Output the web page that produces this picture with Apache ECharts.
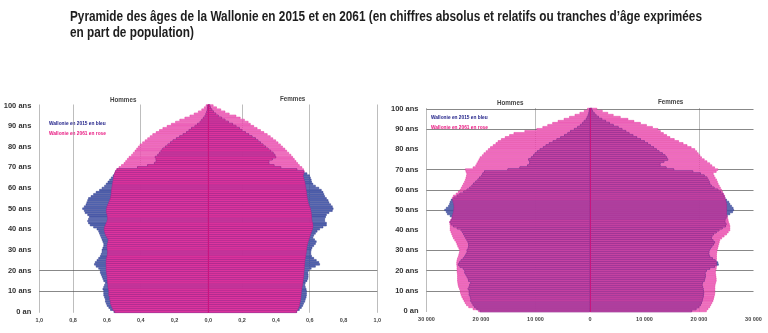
<!DOCTYPE html>
<html><head><meta charset="utf-8">
<script src="https://cdn.jsdelivr.net/npm/echarts@6/dist/echarts.min.js"></script>
<style>html,body{margin:0;padding:0;background:#fff}#c{width:768px;height:333px}</style>
</head><body><div id="c"></div><script>
// ---- categories ----
const ages = Array.from({length: 101}, (_, i) => i);
const ageLabels = ages.map(a => a === 0 ? '0 an' : a + ' ans');

// ---- relative (% of population) ----
const menRel2015 = [0.56,0.58,0.59,0.60,0.605,0.61,0.61,0.615,0.62,0.62,0.62,0.625,0.62,0.615,0.61,0.62,0.625,0.63,0.635,0.64,0.64,0.65,0.665,0.675,0.67,0.66,0.65,0.64,0.635,0.63,0.63,0.625,0.62,0.62,0.625,0.63,0.635,0.64,0.645,0.65,0.66,0.68,0.70,0.71,0.715,0.71,0.705,0.715,0.73,0.735,0.745,0.735,0.725,0.72,0.715,0.71,0.695,0.68,0.665,0.645,0.63,0.615,0.605,0.595,0.585,0.575,0.565,0.555,0.55,0.54,0.42,0.36,0.32,0.31,0.31,0.315,0.30,0.29,0.28,0.27,0.255,0.24,0.225,0.21,0.19,0.17,0.15,0.13,0.115,0.10,0.08,0.065,0.05,0.04,0.03,0.02,0.015,0.01,0.007,0.005,0.003];
const menRel2061 = [0.555,0.565,0.57,0.575,0.58,0.58,0.585,0.585,0.59,0.59,0.59,0.592,0.595,0.595,0.597,0.598,0.60,0.60,0.602,0.603,0.605,0.605,0.605,0.606,0.606,0.605,0.603,0.60,0.598,0.597,0.598,0.60,0.60,0.598,0.595,0.593,0.60,0.607,0.612,0.615,0.617,0.615,0.61,0.605,0.60,0.597,0.598,0.60,0.603,0.604,0.603,0.60,0.595,0.59,0.585,0.58,0.578,0.576,0.575,0.574,0.572,0.57,0.568,0.566,0.564,0.562,0.56,0.556,0.552,0.545,0.53,0.515,0.50,0.49,0.48,0.47,0.455,0.445,0.435,0.425,0.415,0.405,0.39,0.375,0.36,0.345,0.33,0.31,0.29,0.27,0.245,0.22,0.195,0.17,0.14,0.11,0.085,0.06,0.04,0.025,0.015];
const womenRel2015 = [0.525,0.54,0.552,0.56,0.565,0.572,0.575,0.58,0.582,0.582,0.582,0.58,0.575,0.572,0.575,0.585,0.59,0.592,0.592,0.59,0.595,0.61,0.635,0.66,0.655,0.64,0.625,0.612,0.608,0.608,0.61,0.615,0.625,0.635,0.64,0.63,0.62,0.625,0.635,0.645,0.66,0.68,0.70,0.70,0.69,0.69,0.695,0.70,0.715,0.735,0.74,0.735,0.725,0.715,0.71,0.70,0.69,0.685,0.68,0.67,0.655,0.635,0.62,0.612,0.61,0.605,0.60,0.585,0.565,0.525,0.43,0.39,0.36,0.36,0.38,0.40,0.395,0.385,0.37,0.355,0.34,0.325,0.31,0.295,0.28,0.26,0.24,0.22,0.20,0.185,0.165,0.145,0.12,0.10,0.08,0.06,0.045,0.032,0.022,0.014,0.01];
const womenRel2061 = [0.523,0.53,0.535,0.54,0.542,0.545,0.547,0.549,0.55,0.551,0.552,0.554,0.556,0.558,0.56,0.562,0.563,0.565,0.566,0.567,0.568,0.569,0.57,0.571,0.572,0.573,0.575,0.577,0.579,0.581,0.582,0.584,0.586,0.589,0.592,0.596,0.60,0.604,0.608,0.612,0.617,0.62,0.62,0.618,0.615,0.613,0.612,0.611,0.61,0.608,0.605,0.60,0.596,0.592,0.59,0.587,0.585,0.583,0.582,0.58,0.578,0.576,0.574,0.572,0.568,0.565,0.562,0.566,0.57,0.565,0.555,0.54,0.53,0.52,0.51,0.50,0.49,0.477,0.465,0.454,0.44,0.428,0.414,0.40,0.383,0.368,0.35,0.33,0.31,0.29,0.27,0.25,0.237,0.215,0.19,0.165,0.125,0.10,0.075,0.05,0.03];

// ---- absolute numbers ----
const menAbs2015 = [20200,20800,21200,21500,21700,21900,21900,22000,22200,22200,22200,22400,22200,22100,21900,22300,22400,22600,22800,23000,23000,23300,23900,24200,24000,23700,23300,23000,22800,22600,22600,22400,22300,22300,22400,22600,22800,23000,23200,23400,23700,24400,25100,25500,25700,25500,25300,25700,26200,26400,26700,26400,26000,25800,25700,25500,25000,24400,23900,23200,22600,22100,21700,21400,21000,20600,20300,19900,19700,19400,15100,12900,11500,11100,11100,11300,10800,10400,10100,9700,9200,8600,8100,7500,6800,6100,5400,4700,4100,3600,2900,2300,1800,1400,1100,720,540,360,250,180,110];
const menAbs2061 = [20500,21500,22300,22700,22950,23150,23350,23550,23700,23800,23850,24000,24150,24250,24300,24350,24350,24350,24350,24400,24450,24450,24450,24500,24500,24450,24350,24200,24100,24000,23950,24100,24300,24450,24600,24850,25100,25250,25400,25550,25700,25700,25700,25750,25800,25600,25400,25300,25200,25100,25050,25000,25000,25050,25150,25250,25300,25100,24600,24200,23850,23650,23450,23250,23050,22900,22800,22700,22650,22800,22900,21500,21000,20800,20600,20400,20200,19800,19500,19100,18700,18300,17800,17300,16900,16300,15600,14800,14000,12000,9800,8700,7800,6900,5900,4800,3800,2800,1900,1100,500];
const womenAbs2015 = [18700,19500,20000,20300,20500,20600,20700,20800,20850,20900,20850,20800,20700,20600,20700,21000,21100,21200,21200,21150,21400,22000,22900,23600,23500,23000,22500,22000,21850,21850,21900,22100,22400,22700,22900,22600,22300,22400,22700,23200,23700,24300,24900,25000,24800,24800,25000,25200,25700,26200,26400,26300,26000,25700,25500,25100,24800,24600,24400,24000,23500,22800,22300,22000,21900,21700,21500,21000,20300,18900,15400,14000,12900,12900,13600,14300,14100,13800,13300,12700,12200,11700,11100,10600,10000,9300,8600,7900,7200,6600,5900,5200,4300,3600,2900,2200,1600,1150,800,500,350];
const womenAbs2061 = [21400,21700,22000,22200,22400,22600,22700,22800,22900,22950,22950,22950,22950,23000,23100,23200,23200,23150,23100,23050,23100,23200,23250,23250,23250,23250,23250,23250,23250,23300,23350,23450,23550,23650,23750,23850,24200,24650,25100,25400,25700,25700,25700,25600,25450,25380,25300,25200,25100,25100,25100,25100,25100,25080,25000,24900,24800,24750,24550,24350,24150,23950,23750,23550,23400,23250,23000,22800,22650,23200,23500,22900,22400,22000,21500,21000,20500,20200,19900,19600,19270,18600,17850,17120,16300,15500,14700,14100,13500,12950,12500,11500,10400,9300,8100,7000,5600,4300,3300,2300,1300];

// ---- axis ticks ----
const relTicks = {min: -1, max: 1, interval: 0.2};
const absTicks = {min: -30000, max: 30000, interval: 10000};
const relVLines = [-1, -0.8, -0.4, 0.2, 0.6, 1];
const absVLines = [-30000, -10000, 20000];
const relHLines = ['10 ans', '20 ans'];
const absHLines = ['10 ans', '20 ans', '30 ans', '50 ans', '60 ans', '70 ans', '90 ans', '100 ans'];

// ---- texts ----
const titleLine1 = "Pyramide des âges de la Wallonie en 2015 et en 2061 (en chiffres absolus et relatifs ou tranches d’âge exprimées";
const titleLine2 = "en part de population)";

const FF = "'Liberation Sans',Arial,sans-serif";
const BLUE = '#5a6db6', BLUE_B = '#1f2b84';
const PINK_LIGHT = '#f27ccb', PINK_B = '#e0248f';
const OVER_L = '#e13aa2', OVER_R = '#c94aa6';

const neg = a => a.map(v => -v);
const minArr = (a, b) => a.map((v, i) => Math.min(v, b[i]));

// condensed look: measure width and compress horizontally
const mctx = document.createElement('canvas').getContext('2d');
function textW(t, font) { mctx.font = font; return mctx.measureText(t).width; }
const TITLE_FONT = "bold 14px " + FF;
const titleScale = 632 / textW(titleLine1, TITLE_FONT);

function bar(g, data, color, border, z) {
  return {type: 'bar', xAxisIndex: g, yAxisIndex: g, data, barGap: '-100%', barCategoryGap: '0%', z,
    silent: true, animation: false,
    itemStyle: {color, borderColor: border, borderWidth: 0.45}};
}
function guides(g, v, h) {
  return {type: 'line', xAxisIndex: g, yAxisIndex: g, data: [], silent: true, z: 1,
    markLine: {silent: true, symbol: 'none', z: 1, animation: false, label: {show: false},
      data: v.map(x => ({xAxis: x, lineStyle: {color: '#a0a0a0', width: 0.7, type: 'solid'}}))
        .concat(h.map(y => ({yAxis: y, lineStyle: {color: '#555', width: 0.7, type: 'solid'}})))}};
}
function center(g) {
  return {type: 'line', xAxisIndex: g, yAxisIndex: g, data: [], silent: true, z: 10,
    markLine: {silent: true, symbol: 'none', z: 10, animation: false, label: {show: false},
      lineStyle: {color: '#c8157f', width: 1, type: 'solid'}, data: [{xAxis: 0}]}};
}

const relFmt = v => Math.abs(v).toFixed(1).replace('.', ',');
const absFmt = v => { const a = Math.abs(v); return a === 0 ? '0' : String(a).replace(/\B(?=(\d{3})+(?!\d))/g, ' '); };

function xAx(g, t, fmt, margin) {
  return {type: 'value', gridIndex: g, min: t.min, max: t.max, interval: t.interval,
    axisLine: {show: false}, axisTick: {show: false}, splitLine: {show: false},
    axisLabel: {formatter: fmt, fontSize: 5.5, fontWeight: 'bold', color: '#444', fontFamily: FF, margin}};
}
function yAx(g) {
  return {type: 'category', gridIndex: g, data: ageLabels,
    axisLine: {show: false, onZero: false}, axisTick: {show: false}, splitLine: {show: false},
    axisLabel: {interval: 9, fontSize: 7.5, fontWeight: 'bold', color: '#333', fontFamily: FF, margin: 8}};
}
function txt(x, y, text, font, fill, sx) {
  return {type: 'text', x, y, scaleX: sx, silent: true,
    style: {text, font, fill, align: 'left', verticalAlign: 'middle'}};
}

const chart = echarts.init(document.getElementById('c'));
chart.setOption({
  animation: false,
  grid: [
    {left: 39.3, top: 104.5, width: 338, height: 208.3},
    {left: 426.5, top: 108, width: 327, height: 204}
  ],
  xAxis: [xAx(0, relTicks, relFmt, 5), xAx(1, absTicks, absFmt, 4)],
  yAxis: [yAx(0), yAx(1)],
  series: [
    guides(0, relVLines, relHLines),
    guides(1, absVLines, absHLines),
    bar(0, neg(menRel2061), PINK_LIGHT, PINK_B, 2),
    bar(0, womenRel2061, PINK_LIGHT, PINK_B, 2),
    bar(0, neg(menRel2015), BLUE, BLUE_B, 3),
    bar(0, womenRel2015, BLUE, BLUE_B, 3),
    bar(0, neg(minArr(menRel2015, menRel2061)), OVER_L, '#c81c88', 4),
    bar(0, minArr(womenRel2015, womenRel2061), OVER_L, '#c81c88', 4),
    bar(1, neg(menAbs2061), PINK_LIGHT, PINK_B, 2),
    bar(1, womenAbs2061, PINK_LIGHT, PINK_B, 2),
    bar(1, neg(menAbs2015), BLUE, BLUE_B, 3),
    bar(1, womenAbs2015, BLUE, BLUE_B, 3),
    bar(1, neg(minArr(menAbs2015, menAbs2061)), OVER_R, '#b0288f', 4),
    bar(1, minArr(womenAbs2015, womenAbs2061), OVER_R, '#b0288f', 4),
    center(0), center(1)
  ],
  graphic: [
    txt(70, 17, titleLine1, TITLE_FONT, '#1e1e1e', titleScale),
    txt(70, 33, titleLine2, TITLE_FONT, '#1e1e1e', titleScale),
    txt(110, 100, 'Hommes', "bold 8px " + FF, '#444', 0.78),
    txt(280, 99, 'Femmes', "bold 8px " + FF, '#444', 0.78),
    txt(497, 103, 'Hommes', "bold 8px " + FF, '#444', 0.78),
    txt(658, 102, 'Femmes', "bold 8px " + FF, '#444', 0.78),
    txt(49, 123.5, 'Wallonie en 2015 en bleu', "bold 6px " + FF, '#23238a', 0.8),
    txt(49, 133, 'Wallonie en 2061 en rose', "bold 6px " + FF, '#e8157f', 0.8),
    txt(431, 117.5, 'Wallonie en 2015 en bleu', "bold 6px " + FF, '#23238a', 0.8),
    txt(431, 127, 'Wallonie en 2061 en rose', "bold 6px " + FF, '#e8157f', 0.8)
  ]
});
</script></body></html>
